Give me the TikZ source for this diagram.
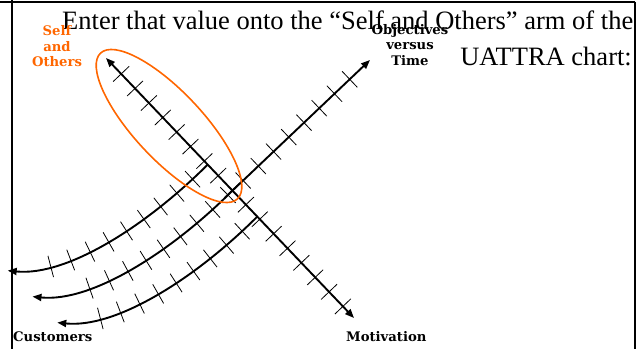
\documentclass[tikz,border=0pt]{standalone}
\usepackage{fontspec}
\setmainfont{Liberation Serif}
\newfontfamily\labelfont{DejaVu Serif}
\usetikzlibrary{arrows.meta,decorations.markings,calc}
\definecolor{orng}{RGB}{255,102,0}
\begin{document}
\begin{tikzpicture}[x=1pt,y=-1pt,
  axisline/.style={line width=1.9pt, black},
  axisboth/.style={axisline, {Triangle[length=9pt,width=7pt]}-{Triangle[length=9pt,width=7pt]}},
  axisend/.style={axisline, -{Triangle[length=9pt,width=7pt]}},
  tickln/.style={-, line width=0.8pt, black},
  tickmarks/.style n args={3}{decoration={markings, mark=between positions #1 and #2 step #3 with {\draw[tickln] (0pt,-11pt) -- (0pt,11pt);}}, decorate},
  frameln/.style={line width=2pt, black},
  ring/.style={draw=orng, line width=1.6pt},
  lbl/.style={font=\labelfont\bfseries\fontsize{13.2}{15.5}\selectfont, inner sep=0pt, align=center},
  maintext/.style={font=\fontsize{26.5}{32}\selectfont, inner sep=0pt}
]
\useasboundingbox (0,0) rectangle (638,349);
% frame
\draw[frameln] (0,1.5) -- (634.5,1.5);
\draw[frameln] (12,0) -- (12,349);
\draw[frameln] (634.5,1.5) -- (634.5,349);
% text
\node[maintext, anchor=base west] (line1) at (62,29.3) {Enter that value onto the “Self and Others” arm of the};
\node[maintext, anchor=base east] (line2) at (632,65) {UATTRA chart:};
% coordinates
\coordinate (stip) at (106,58);
\coordinate (mtip) at (354,318);
\coordinate (otip) at (370,60);
\coordinate (T0) at ($(stip)!0.41!(mtip)$);
\coordinate (X) at ($(stip)!0.51!(mtip)$);
\coordinate (B0) at ($(stip)!0.61!(mtip)$);
\coordinate (T3) at ($(T0)+(-200,106)$);
\coordinate (X3) at ($(X)+(-200,106)$);
\coordinate (B3) at ($(B0)+(-200,106)$);
\coordinate (ec) at (169,126);
% motivation / self axis
\draw[axisboth] (stip) -- (mtip);
\path[tickmarks={22pt}{345pt}{20.08pt}] (stip) -- (mtip);
% objectives axis continuing into middle customer arc
\draw[axisboth] (otip) -- (X) .. controls +(-60,60) and +(60,6) .. (X3);
\path[tickmarks={28pt}{-38pt}{21pt}] (otip) -- (X) .. controls +(-60,60) and +(60,6) .. (X3);
% upper and lower customer arcs
\draw[axisend] (T0) .. controls +(-60,60) and +(60,6) .. (T3);
\path[tickmarks={21pt}{-40pt}{21pt}] (T0) .. controls +(-60,60) and +(60,6) .. (T3);
\draw[axisend] (B0) .. controls +(-60,60) and +(60,6) .. (B3);
\path[tickmarks={21pt}{-40pt}{21pt}] (B0) .. controls +(-60,60) and +(60,6) .. (B3);
% orange ring
\draw[ring] (ec) ellipse [x radius=100pt, y radius=34pt, rotate=-46.8];
% labels (base = baseline of last line)
\node[lbl, text=orng, anchor=base] (selfl) at (57,66.7) {Self\\and\\Others};
\node[lbl, anchor=base] (objl) at (410,65) {Objectives\\versus\\Time};
\node[lbl, anchor=base west] (custl) at (13,341) {Customers};
\node[lbl, anchor=base west] (motl) at (346,341) {Motivation};
\end{tikzpicture}
\end{document}
